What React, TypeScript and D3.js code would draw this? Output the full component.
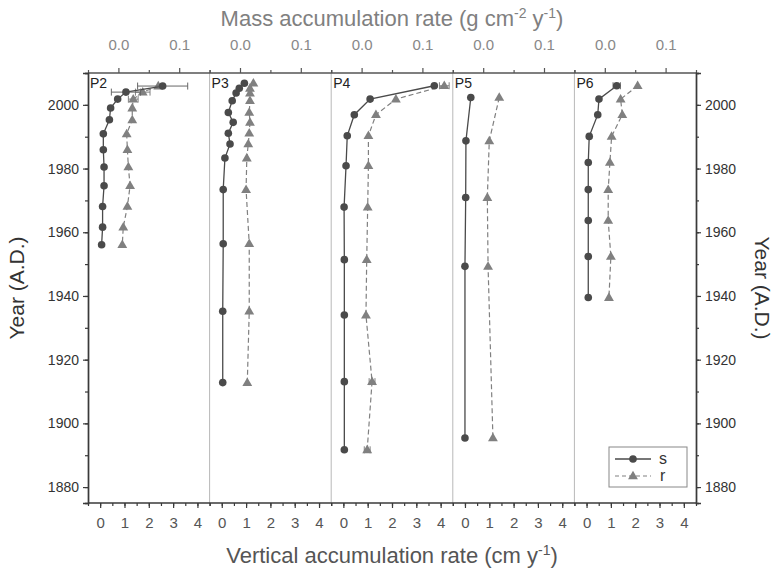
import React, { useEffect, useRef } from 'react';
import * as d3 from 'd3';

// panel names
const PANELS = ['P2', 'P3', 'P4', 'P5', 'P6'];

// years (A.D.) of each dated layer, per panel
const P2_YEARS = [2005.9, 2004, 2001.8, 1999, 1995.3, 1990.9, 1985.9, 1980.5, 1974.6, 1968.1, 1961.6, 1956.1];
const P3_YEARS = [2006.8, 2005.2, 2003.7, 2001.3, 1997.6, 1994.5, 1991.1, 1987.7, 1983.3, 1973.4, 1956.4, 1935.2, 1912.8];
const P4_YEARS = [2006, 2001.8, 1996.9, 1990.3, 1980.9, 1967.9, 1951.4, 1934, 1913.1, 1891.7];
const P5_YEARS = [2002.3, 1988.7, 1970.9, 1949.3, 1895.4];
const P6_YEARS = [2006, 2001.8, 1996.9, 1990.1, 1981.9, 1973.4, 1963.7, 1952.4, 1939.5];

// series s (vertical accumulation rate, cm/y)
const P2_S = [2.57, 1.06, 0.72, 0.43, 0.38, 0.13, 0.13, 0.16, 0.16, 0.1, 0.1, 0.06];
const P3_S = [0.93, 0.72, 0.59, 0.43, 0.27, 0.47, 0.27, 0.34, 0.13, 0.06, 0.06, 0.04, 0.04];
const P4_S = [3.74, 1.1, 0.45, 0.16, 0.11, 0.03, 0.04, 0.04, 0.04, 0.04];
const P5_S = [0.24, 0.04, 0.03, 0.0, 0.0];
const P6_S = [1.24, 0.51, 0.46, 0.11, 0.07, 0.07, 0.07, 0.07, 0.07];

// series r
const P2_R = [2.39, 1.75, 1.36, 1.32, 1.32, 1.09, 1.12, 1.16, 1.23, 1.12, 0.95, 0.91];
const P3_R = [1.3, 1.16, 1.16, 1.16, 1.13, 1.16, 1.13, 1.09, 1.03, 1.0, 1.13, 1.13, 1.05];
const P4_R = [4.15, 2.16, 1.34, 1.03, 1.03, 1.0, 0.96, 0.93, 1.18, 0.98];
const P5_R = [1.41, 1.0, 0.92, 0.95, 1.15];
const P6_R = [2.1, 1.4, 1.47, 1.03, 0.96, 0.89, 0.89, 1.0, 0.92];

// horizontal error bars (0 = none)
const P2_S_ERR = [1.03, 0.6, 0, 0, 0, 0, 0, 0, 0, 0, 0, 0];
const P2_R_ERR = [0, 0.3, 0.2, 0, 0, 0, 0, 0, 0, 0, 0, 0];
const P4_R_ERR = [0.2, 0, 0, 0, 0, 0, 0, 0, 0.12, 0.12];
const P6_S_ERR = [0.15, 0, 0, 0, 0, 0, 0, 0, 0];

const X_TICKS = [0, 1, 2, 3, 4];
const TOP_TICKS = [0, 0.1];
const YEAR_TICKS = [1880, 1900, 1920, 1940, 1960, 1980, 2000];

const App = () => {
  const ref = useRef(null);

  useEffect(() => {
    const svg = d3.select(ref.current);
    svg.selectAll('*').remove();

    const width = 777;
    const height = 570;
    const margin = { top: 73, right: 81, bottom: 67, left: 88 };
    const plotW = width - margin.left - margin.right;
    const innerBottom = height - margin.bottom;
    const panelW = plotW / PANELS.length;
    const font = 'Liberation Sans, Arial, sans-serif';
    const sColor = '#4a4a4a';
    const rColor = '#808080';
    const axisColor = '#3a3a3a';

    const data = [
      { years: P2_YEARS, s: P2_S, r: P2_R, sErr: P2_S_ERR, rErr: P2_R_ERR },
      { years: P3_YEARS, s: P3_S, r: P3_R, sErr: [], rErr: [] },
      { years: P4_YEARS, s: P4_S, r: P4_R, sErr: [], rErr: P4_R_ERR },
      { years: P5_YEARS, s: P5_S, r: P5_R, sErr: [], rErr: [] },
      { years: P6_YEARS, s: P6_S, r: P6_R, sErr: P6_S_ERR, rErr: [] },
    ];

    const y = d3.scaleLinear().domain([1875, 2010]).range([innerBottom, margin.top]);
    const triangle = d3.symbol().type(d3.symbolTriangle).size(42);

    // panel separators
    for (let i = 1; i < PANELS.length; i++) {
      const px = margin.left + i * panelW;
      svg.append('line')
        .attr('x1', px).attr('x2', px)
        .attr('y1', margin.top).attr('y2', innerBottom)
        .attr('stroke', '#b8b8b8').attr('stroke-width', 1);
    }

    data.forEach((p, i) => {
      const left = margin.left + i * panelW;
      const x = d3.scaleLinear().domain([-0.5, 4.5]).range([left, left + panelW]);
      const xTop = d3.scaleLinear().domain([-0.05, 0.15]).range([left, left + panelW]);
      const g = svg.append('g');

      // bottom axis
      const bottom = g.append('g').attr('transform', `translate(0,${innerBottom})`);
      bottom.call(d3.axisBottom(x).tickValues(X_TICKS).tickSize(5).tickPadding(9).tickFormat(d3.format('d')));
      bottom.append('g').call(d3.axisBottom(x).tickValues(d3.range(-0.5, 4.51, 0.5)).tickSize(3).tickFormat(() => ''));
      bottom.selectAll('.domain').remove();
      bottom.selectAll('line').attr('stroke', axisColor).attr('stroke-width', 1.2);
      bottom.selectAll('text').attr('font-family', font).attr('font-size', 15).attr('fill', '#555');

      // top axis
      const top = g.append('g').attr('transform', `translate(0,${margin.top})`);
      top.call(d3.axisTop(xTop).tickValues(TOP_TICKS).tickSize(5).tickPadding(18).tickFormat(d3.format('.1f')));
      top.append('g').call(d3.axisTop(xTop).tickValues([-0.05, 0.05, 0.15]).tickSize(3).tickFormat(() => ''));
      top.selectAll('.domain').remove();
      top.selectAll('line').attr('stroke', '#555').attr('stroke-width', 1.2);
      top.selectAll('text').attr('font-family', font).attr('font-size', 15).attr('fill', '#888');

      // panel label
      g.append('text')
        .attr('x', left + 2).attr('y', margin.top + 15)
        .attr('font-family', font).attr('font-size', 14).attr('fill', '#222')
        .text(PANELS[i]);

      const rows = p.years.map((yr, k) => ({ yr, s: p.s[k], r: p.r[k], se: p.sErr[k] || 0, re: p.rErr[k] || 0 }));

      // r series (dashed, triangles)
      g.append('path')
        .datum(rows)
        .attr('fill', 'none').attr('stroke', rColor).attr('stroke-width', 1.2)
        .attr('stroke-dasharray', '5,3')
        .attr('d', d3.line().x(d => x(d.r)).y(d => y(d.yr)));
      rows.filter(d => d.re > 0).forEach(d => {
        const eg = g.append('g').attr('stroke', rColor).attr('stroke-width', 1);
        eg.append('line').attr('x1', x(d.r - d.re)).attr('x2', x(d.r + d.re)).attr('y1', y(d.yr)).attr('y2', y(d.yr));
        [d.r - d.re, d.r + d.re].forEach(v => eg.append('line').attr('x1', x(v)).attr('x2', x(v)).attr('y1', y(d.yr) - 3.5).attr('y2', y(d.yr) + 3.5));
      });
      g.selectAll('.tri').data(rows).enter().append('path')
        .attr('transform', d => `translate(${x(d.r)},${y(d.yr) + 0.5})`)
        .attr('d', triangle).attr('fill', rColor);

      // s series (solid, circles)
      g.append('path')
        .datum(rows)
        .attr('fill', 'none').attr('stroke', sColor).attr('stroke-width', 1.3)
        .attr('d', d3.line().x(d => x(d.s)).y(d => y(d.yr)));
      rows.filter(d => d.se > 0).forEach(d => {
        const eg = g.append('g').attr('stroke', '#666').attr('stroke-width', 1);
        eg.append('line').attr('x1', x(d.s - d.se)).attr('x2', x(d.s + d.se)).attr('y1', y(d.yr)).attr('y2', y(d.yr));
        [d.s - d.se, d.s + d.se].forEach(v => eg.append('line').attr('x1', x(v)).attr('x2', x(v)).attr('y1', y(d.yr) - 3.5).attr('y2', y(d.yr) + 3.5));
      });
      g.selectAll('.dot').data(rows).enter().append('circle')
        .attr('cx', d => x(d.s)).attr('cy', d => y(d.yr)).attr('r', 3.8)
        .attr('fill', sColor);
    });

    // frame
    const right = width - margin.right;
    svg.append('line').attr('x1', margin.left).attr('x2', right).attr('y1', margin.top).attr('y2', margin.top)
      .attr('stroke', '#555').attr('stroke-width', 1.4);
    svg.append('line').attr('x1', margin.left).attr('x2', right).attr('y1', innerBottom).attr('y2', innerBottom)
      .attr('stroke', axisColor).attr('stroke-width', 1.4);

    // year axes, left and right
    const yLeft = svg.append('g').attr('transform', `translate(${margin.left},0)`);
    yLeft.call(d3.axisLeft(y).tickValues(YEAR_TICKS).tickSize(5).tickPadding(4).tickFormat(d3.format('d')));
    yLeft.append('g').call(d3.axisLeft(y).tickValues(d3.range(1880, 2011, 10)).tickSize(3).tickFormat(() => ''));
    const yRight = svg.append('g').attr('transform', `translate(${right},0)`);
    yRight.call(d3.axisRight(y).tickValues(YEAR_TICKS).tickSize(5).tickPadding(4).tickFormat(d3.format('d')));
    yRight.append('g').call(d3.axisRight(y).tickValues(d3.range(1880, 2011, 10)).tickSize(3).tickFormat(() => ''));
    [yLeft, yRight].forEach(a => {
      a.selectAll('.domain').attr('stroke', axisColor).attr('stroke-width', 1.4);
      a.selectAll('line').attr('stroke', axisColor).attr('stroke-width', 1.2);
      a.selectAll('text').attr('font-family', font).attr('font-size', 14).attr('fill', '#333');
    });

    // axis titles
    const midY = (margin.top + innerBottom) / 2;
    svg.append('text')
      .attr('transform', `translate(24,${midY}) rotate(-90)`)
      .attr('text-anchor', 'middle').attr('font-family', font).attr('font-size', 21).attr('fill', '#333')
      .text('Year (A.D.)');
    svg.append('text')
      .attr('transform', `translate(755,${midY}) rotate(90)`)
      .attr('text-anchor', 'middle').attr('font-family', font).attr('font-size', 21).attr('fill', '#333')
      .text('Year (A.D.)');

    const midX = (margin.left + right) / 2;
    const topTitle = svg.append('text')
      .attr('x', midX).attr('y', 26)
      .attr('text-anchor', 'middle').attr('font-family', font).attr('font-size', 22).attr('fill', '#808080');
    topTitle.append('tspan').text('Mass accumulation rate (g cm');
    topTitle.append('tspan').attr('font-size', 14).attr('dy', -8).text('-2');
    topTitle.append('tspan').attr('dy', 8).text(' y');
    topTitle.append('tspan').attr('font-size', 14).attr('dy', -8).text('-1');
    topTitle.append('tspan').attr('dy', 8).text(')');

    const botTitle = svg.append('text')
      .attr('x', midX).attr('y', 563)
      .attr('text-anchor', 'middle').attr('font-family', font).attr('font-size', 22).attr('fill', '#555');
    botTitle.append('tspan').text('Vertical accumulation rate (cm y');
    botTitle.append('tspan').attr('font-size', 14).attr('dy', -8).text('-1');
    botTitle.append('tspan').attr('dy', 8).text(')');

    // legend
    const lg = svg.append('g').attr('transform', `translate(${right - 87},${innerBottom - 56})`);
    lg.append('rect').attr('width', 78).attr('height', 40).attr('fill', '#fff')
      .attr('stroke', '#888').attr('stroke-width', 1);
    lg.append('line').attr('x1', 6).attr('x2', 42).attr('y1', 12).attr('y2', 12)
      .attr('stroke', sColor).attr('stroke-width', 1.3);
    lg.append('circle').attr('cx', 24).attr('cy', 12).attr('r', 3.8).attr('fill', sColor);
    lg.append('text').attr('x', 50).attr('y', 17).attr('font-family', font).attr('font-size', 16).attr('fill', '#333').text('s');
    lg.append('line').attr('x1', 6).attr('x2', 42).attr('y1', 29).attr('y2', 29)
      .attr('stroke', rColor).attr('stroke-width', 1.2).attr('stroke-dasharray', '4,3');
    lg.append('path').attr('transform', 'translate(24,29.5)').attr('d', triangle).attr('fill', rColor);
    lg.append('text').attr('x', 51).attr('y', 34).attr('font-family', font).attr('font-size', 16).attr('fill', '#333').text('r');
  }, []);

  return (
    <div style={{ position: 'absolute', left: 0, top: 0 }}>
      <svg ref={ref} width={777} height={570} style={{ display: 'block', background: '#fff' }} />
    </div>
  );
};

export default App;
